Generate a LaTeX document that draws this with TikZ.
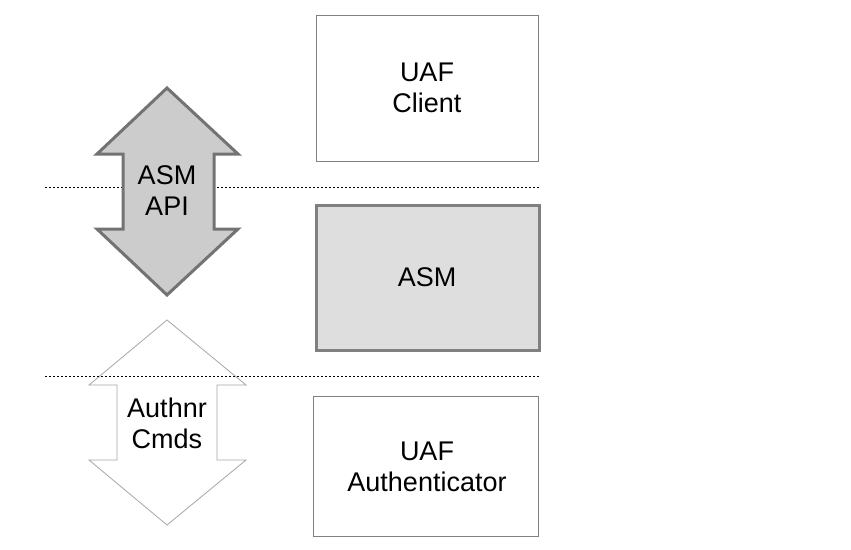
\documentclass[tikz,border=0pt]{standalone}
\usepackage{fontspec}
\setmainfont{Liberation Sans}
\begin{document}
\begin{tikzpicture}[x=1pt,y=-1pt,
  lbl/.style={align=center,font=\fontsize{27}{31}\selectfont,text=black,inner sep=0pt},
  plainbox/.style={draw=black!50,line width=1pt,fill=white},
  asmbox/.style={draw=black!50,line width=3pt,fill=black!13},
  apiarrow/.style={draw=black!55,line width=3pt,fill=black!20,line join=miter},
  cmdarrow/.style={draw=black!35,line width=0.8pt,fill=white,line join=miter},
  sep/.style={dash pattern=on 2pt off 2pt,line width=1pt,black}]
\useasboundingbox (0,0) rectangle (851,549);
% separators (top one behind the API arrow)
\coordinate (s1a) at (45,187);
\coordinate (s1b) at (540,187);
\draw[sep] (s1a) -- (s1b);
% boxes
\draw[plainbox] (316,15) rectangle (538,161);
\node[lbl] (client) at (427,88) {UAF\\Client};
\draw[asmbox] (316,205) rectangle (539,350);
\node[lbl] (asm) at (427,277) {ASM};
\draw[plainbox] (313,396) rectangle (538,536);
\node[lbl] (authr) at (427,467) {UAF\\Authenticator};
% ASM API double arrow
\draw[apiarrow] (167,88) -- (238,154) -- (214,154) -- (214,229) -- (238,229) -- (167,295)
  -- (97,229) -- (123,229) -- (123,154) -- (97,154) -- cycle;
\node[lbl] (api) at (167,191) {ASM\\API};
% Authnr Cmds double arrow
\draw[cmdarrow] (167,320) -- (246,385) -- (217,385) -- (217,460) -- (246,460) -- (167,525)
  -- (89,460) -- (117,460) -- (117,385) -- (89,385) -- cycle;
\node[lbl] (cmds) at (167,423) {Authnr\\Cmds};
% lower separator over the arrow
\coordinate (s2a) at (45,376);
\coordinate (s2b) at (540,376);
\draw[sep] (s2a) -- (s2b);
\end{tikzpicture}
\end{document}
